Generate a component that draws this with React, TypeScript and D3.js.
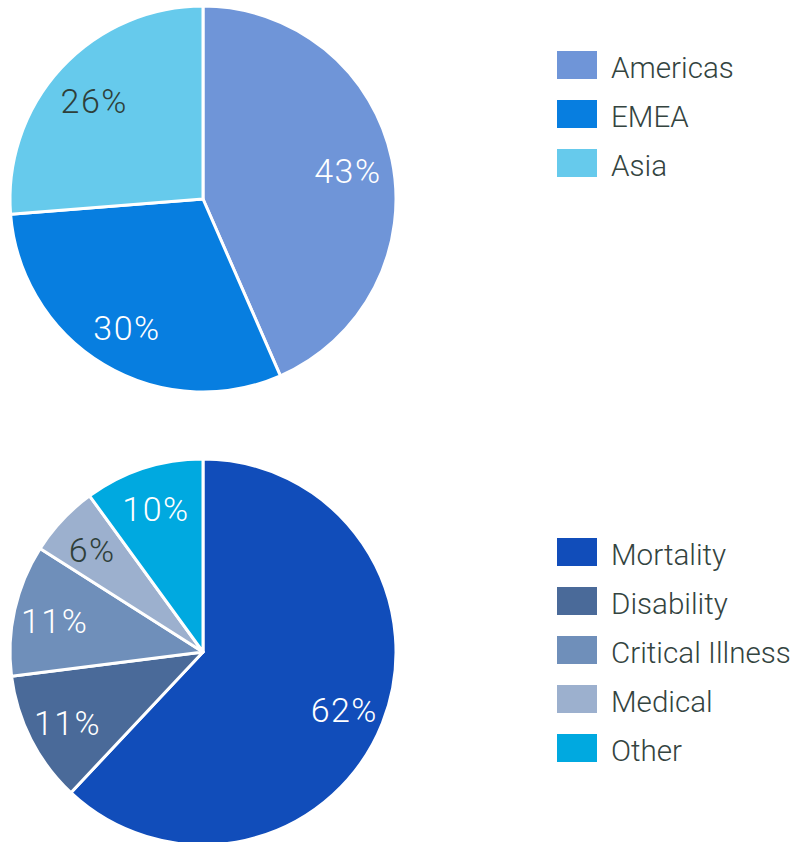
import React from "react";
import * as d3 from "d3";

const regionLabels = ["Americas", "EMEA", "Asia"];
const regionValues = [43, 30, 26];
const regionColors = ["#6f95d8", "#077ee0", "#66caec"];
const regionTextColors = ["#ffffff", "#ffffff", "#2f3f3a"];

const productLabels = ["Mortality", "Disability", "Critical Illness", "Medical", "Other"];
const productValues = [62, 11, 11, 6, 10];
const productColors = ["#114dba", "#4a6a99", "#6f8fba", "#9cb0ce", "#00a9e0"];
const productTextColors = ["#ffffff", "#ffffff", "#ffffff", "#2f3f3a", "#ffffff"];

const W = 796;
const H = 842;
const FONT = "Roboto, 'Liberation Sans', sans-serif";

type PieProps = {
  cx: number;
  cy: number;
  r: number;
  labelR: number;
  labels: string[];
  values: number[];
  colors: string[];
  textColors: string[];
  legendY: number;
};

function Pie({ cx, cy, r, labelR, labels, values, colors, textColors, legendY }: PieProps) {
  const pie = d3.pie<number>().sort(null).value((d) => d);
  const arcs = pie(values);
  const arc = d3.arc<d3.PieArcDatum<number>>().innerRadius(0).outerRadius(r);
  const labelArc = d3.arc<d3.PieArcDatum<number>>().innerRadius(labelR).outerRadius(labelR);
  const legendScale = d3.scaleBand<string>().domain(labels).range([legendY, legendY + labels.length * 49]);
  return (
    <g>
      <g transform={`translate(${cx},${cy})`}>
        {arcs.map((a, i) => (
          <path key={i} d={arc(a) || ""} fill={colors[i]} stroke="#ffffff" strokeWidth={3} strokeLinejoin="round" />
        ))}
        {arcs.map((a, i) => {
          const [x, y] = labelArc.centroid(a);
          return (
            <text
              key={"t" + i}
              x={x}
              y={y + 2}
              textAnchor="middle"
              dominantBaseline="central"
              fill={textColors[i]}
              fontSize={34}
              fontWeight={300}
              fontFamily={FONT}
              letterSpacing={1.5}
            >
              {values[i]}%
            </text>
          );
        })}
      </g>
      {labels.map((l, i) => {
        const y = legendScale(l) as number;
        return (
          <g key={"l" + i}>
            <rect x={557} y={y} width={40} height={28} fill={colors[i]} />
            <text
              x={611}
              y={y + 17}
              dominantBaseline="central"
              fill="#34443f"
              fontSize={29.6}
              fontWeight={300}
              fontFamily={FONT}
            >
              {l}
            </text>
          </g>
        );
      })}
    </g>
  );
}

export default function App() {
  return (
    <svg
      width={W}
      height={H}
      style={{ position: "absolute", left: 0, top: 0, background: "#ffffff" }}
    >
      <Pie
        cx={203}
        cy={199}
        r={193}
        labelR={148}
        labels={regionLabels}
        values={regionValues}
        colors={regionColors}
        textColors={regionTextColors}
        legendY={51}
      />
      <Pie
        cx={203}
        cy={652}
        r={193}
        labelR={152}
        labels={productLabels}
        values={productValues}
        colors={productColors}
        textColors={productTextColors}
        legendY={538}
      />
    </svg>
  );
}
